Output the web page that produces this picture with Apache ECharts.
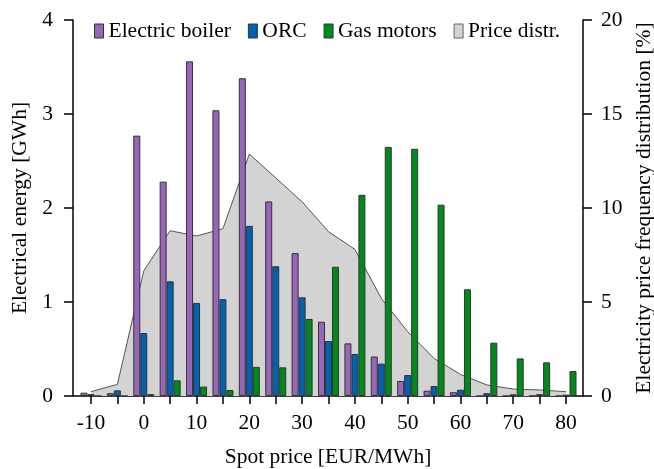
<!DOCTYPE html>
<html>
<head>
<meta charset="utf-8">
<script src="https://cdn.jsdelivr.net/npm/echarts@6/dist/echarts.min.js"></script>
<style>
  html, body { margin: 0; padding: 0; background: #fff; }
  #chart { width: 654px; height: 469px; }
</style>
</head>
<body>
<div id="chart"></div>
<script>
// Spot price bins [EUR/MWh]
const spotPrices = [-10, -5, 0, 5, 10, 15, 20, 25, 30, 35, 40, 45, 50, 55, 60, 65, 70, 75, 80];
// Electrical energy per bin [GWh]
const electricBoiler = [0.035, 0.03, 2.77, 2.28, 3.56, 3.04, 3.38, 2.07, 1.52, 0.79, 0.56, 0.42, 0.16, 0.056, 0.04, 0, 0, 0, 0];
const orc = [0.02, 0.06, 0.67, 1.22, 0.99, 1.03, 1.81, 1.38, 1.05, 0.585, 0.447, 0.344, 0.223, 0.106, 0.067, 0.03, 0.018, 0.02, 0.014];
const gasMotors = [0, 0, 0.02, 0.167, 0.1, 0.064, 0.31, 0.305, 0.82, 1.375, 2.14, 2.65, 2.63, 2.035, 1.135, 0.567, 0.40, 0.358, 0.266];
// Electricity price frequency distribution [%]
const priceDistr = [0.23, 0.62, 6.66, 8.79, 8.51, 8.9, 12.87, 11.6, 10.33, 8.74, 7.80, 5.20, 3.42, 2.0, 1.15, 0.59, 0.37, 0.32, 0.23];
// Axis ticks
const xTicks = [-10, -5, 0, 5, 10, 15, 20, 25, 30, 35, 40, 45, 50, 55, 60, 65, 70, 75, 80];
const xLabels = [-10, 0, 10, 20, 30, 40, 50, 60, 70, 80];

const FONT = '"Liberation Serif", "DejaVu Serif", serif';
const pair = arr => spotPrices.map((x, i) => [x, arr[i]]);

const chart = echarts.init(document.getElementById('chart'), null, { renderer: 'canvas' });

const barStyle = color => ({ color: color, borderColor: '#333', borderWidth: 1 });

chart.setOption({
  animation: false,
  backgroundColor: '#fff',
  textStyle: { fontFamily: FONT, color: '#000' },
  grid: { left: 73, right: 71, top: 20, bottom: 73, containLabel: false, outerBoundsMode: 'none' },
  legend: {
    left: 94,
    top: 20,
    padding: 0,
    itemWidth: 9,
    itemHeight: 14,
    itemGap: 17,
    icon: 'rect',
    textStyle: { fontFamily: FONT, fontSize: 21.5, color: '#000' },
    data: [
      { name: 'Electric boiler', itemStyle: barStyle('#9766b9') },
      { name: 'ORC', itemStyle: barStyle('#0062b1') },
      { name: 'Gas motors', itemStyle: barStyle('#008a1c') },
      { name: 'Price distr.', itemStyle: { color: '#d3d3d3', borderColor: '#666', borderWidth: 1 } }
    ]
  },
  xAxis: {
    type: 'value',
    min: -13.41,
    max: 83.22,
    name: 'Spot price [EUR/MWh]',
    nameLocation: 'middle',
    nameGap: 50,
    nameTextStyle: { fontFamily: FONT, fontSize: 21.5, color: '#000' },
    axisLine: { show: true, onZero: false, lineStyle: { color: '#000', width: 1.5 } },
    axisTick: { show: true, inside: false, length: 8, customValues: xTicks, lineStyle: { color: '#000', width: 1.5 } },
    axisLabel: { customValues: xLabels, margin: 16, fontFamily: FONT, fontSize: 21.5, color: '#000' },
    splitLine: { show: false }
  },
  yAxis: [
    {
      type: 'value',
      min: 0, max: 4, interval: 1,
      position: 'left',
      name: 'Electrical energy [GWh]',
      nameLocation: 'middle',
      nameGap: 36,
      nameTextStyle: { fontFamily: FONT, fontSize: 21.5, color: '#000' },
      axisLine: { show: true, onZero: false, lineStyle: { color: '#000', width: 1.5 } },
      axisTick: { show: true, inside: false, length: 9, lineStyle: { color: '#000', width: 1.5 } },
      axisLabel: { margin: 20, fontFamily: FONT, fontSize: 21.5, color: '#000' },
      splitLine: { show: false }
    },
    {
      type: 'value',
      min: 0, max: 20, interval: 5,
      position: 'right',
      name: 'Electricity price frequency distribution [%]',
      nameLocation: 'middle',
      nameGap: 42,
      nameRotate: 90,
      nameTextStyle: { fontFamily: FONT, fontSize: 21.5, color: '#000' },
      axisLine: { show: true, onZero: false, lineStyle: { color: '#000', width: 1.5 } },
      axisTick: { show: true, inside: false, length: 9, lineStyle: { color: '#000', width: 1.5 } },
      axisLabel: { margin: 18, fontFamily: FONT, fontSize: 21.5, color: '#000' },
      splitLine: { show: false }
    }
  ],
  series: [
    {
      name: 'Price distr.',
      type: 'line',
      yAxisIndex: 1,
      z: 1,
      data: pair(priceDistr),
      symbol: 'none',
      smooth: false,
      lineStyle: { color: '#555', width: 1 },
      itemStyle: { color: '#d3d3d3' },
      areaStyle: { color: '#d3d3d3', opacity: 1 }
    },
    {
      name: 'Electric boiler',
      type: 'bar',
      yAxisIndex: 0,
      z: 3,
      barWidth: 7,
      barGap: '0%',
      data: pair(electricBoiler),
      itemStyle: barStyle('#9766b9')
    },
    {
      name: 'ORC',
      type: 'bar',
      yAxisIndex: 0,
      z: 3,
      barWidth: 7,
      barGap: '0%',
      data: pair(orc),
      itemStyle: barStyle('#0062b1')
    },
    {
      name: 'Gas motors',
      type: 'bar',
      yAxisIndex: 0,
      z: 3,
      barWidth: 7,
      barGap: '0%',
      data: pair(gasMotors),
      itemStyle: barStyle('#008a1c')
    }
  ]
});
</script>
</body>
</html>
